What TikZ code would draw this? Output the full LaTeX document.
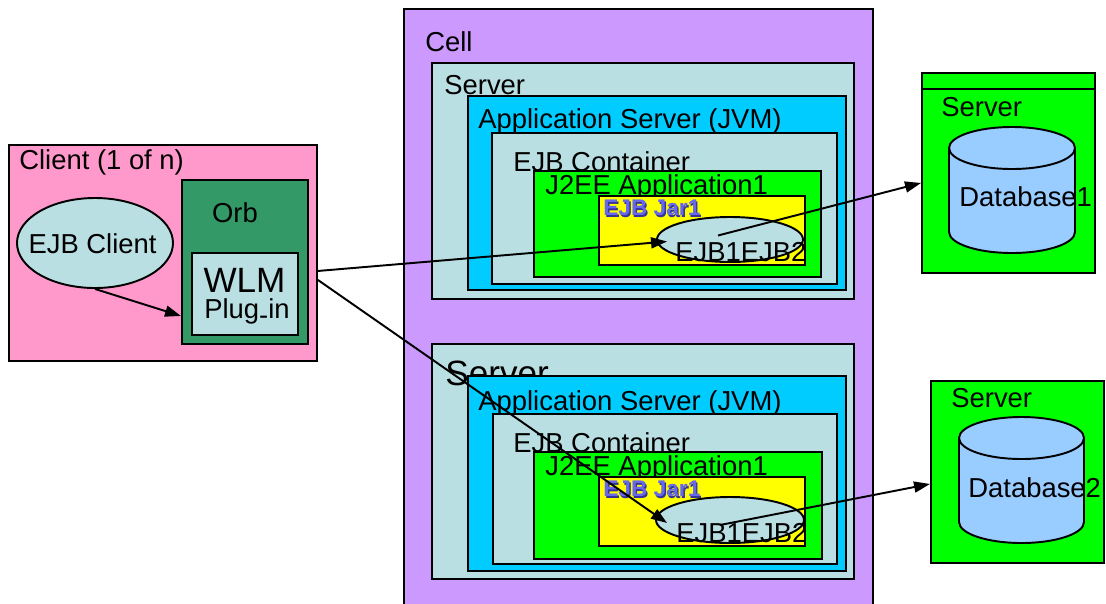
\documentclass[tikz,border=0pt]{standalone}
\usepackage{fontspec}
\setmainfont{Liberation Sans}
\usepackage{tikz}
\usetikzlibrary{arrows.meta}
\usetikzlibrary{shapes.geometric}
\usepackage{xcolor}

\definecolor{clientpink}{HTML}{FF99CC}
\definecolor{orbgreen}{HTML}{339966}
\definecolor{paleblue}{HTML}{B9DFE3}
\definecolor{jvmcyan}{HTML}{00CCFF}
\definecolor{cellpurple}{HTML}{CC99FF}
\definecolor{appgreen}{HTML}{00FF00}
\definecolor{jaryellow}{HTML}{FFFF00}
\definecolor{dbblue}{HTML}{99CCFF}
\definecolor{jarblue}{HTML}{6666EE}
\definecolor{jarshade}{HTML}{333399}

\newcommand{\jarlabel}[1]{\makebox[0pt][l]{\hspace{0.8pt}\raisebox{-0.8pt}{\color{jarshade}#1}}{\color{jarblue}#1}}

\begin{document}
\begin{tikzpicture}[box/.style={shape=rectangle,draw=black,line width=1.1pt,anchor=north west,inner sep=0pt},
  lbl/.style={anchor=west,inner sep=0pt,font=\fontsize{15.6}{18}\selectfont},
  link/.style={-{Triangle[length=3.2mm,width=2.2mm]},line width=1.1pt}]
      %\draw[help lines] (0,0) grid (22,-12); % Only for Development
      \useasboundingbox (0,0) rectangle (22.12,-12.06);

      % client side
      \node[box,fill=clientpink,minimum width=6.16cm,minimum height=4.32cm] (client) at (0.16,-2.88) {};
      \node[lbl] (clientlbl) at (0.38,-3.24) {Client (1 of n)};
      \node[box,fill=orbgreen,minimum width=2.52cm,minimum height=3.28cm] (orb) at (3.62,-3.58) {};
      \node[lbl,anchor=center] (orblbl) at (4.7,-4.26) {Orb};
      \node[box,fill=paleblue,minimum width=2.12cm,minimum height=1.64cm] (wlm) at (3.82,-5.04) {};
      \node[inner sep=0pt,anchor=base,font=\fontsize{20}{22}\selectfont] (wlmlbl) at (4.89,-5.84) {WLM};
      \node[lbl,anchor=base] (pluglbl) at (4.94,-6.36) {Plug\raisebox{-0.25em}{-}in};
      \node[shape=ellipse,
        draw=black,
        line width=1.1pt,
        fill=paleblue,
        inner sep=0pt,
        minimum width=3.12cm,
        minimum height=1.8cm] (ejbclient) at (1.9,-4.86) {};
      \node[lbl,anchor=center] (ejbclientlbl) at (1.85,-4.88) {EJB Client};

      % cell with two servers
      \node[box,fill=cellpurple,minimum width=9.38cm,minimum height=12.5cm] (cell) at (8.06,-0.16) {};
      \node[lbl] (celllbl) at (8.5,-0.84) {Cell};

      \node[box,fill=paleblue,minimum width=8.44cm,minimum height=4.72cm] (srv1) at (8.62,-1.24) {};
      \node[lbl] (srv1lbl) at (8.88,-1.7) {Server};
      \node[box,fill=jvmcyan,minimum width=7.56cm,minimum height=3.88cm] (jvm1) at (9.34,-1.9) {};
      \node[lbl] (jvm1lbl) at (9.56,-2.42) {Application Server (JVM)};
      \node[box,fill=paleblue,minimum width=6.9cm,minimum height=3.02cm] (cont1) at (9.82,-2.64) {};
      \node[lbl] (cont1lbl) at (10.26,-3.24) {EJB Container};
      \node[box,fill=appgreen,minimum width=5.74cm,minimum height=2.12cm] (app1) at (10.66,-3.4) {};
      \node[lbl] (app1lbl) at (10.9,-3.74) {J2EE Application1};
      \node[box,fill=jaryellow,minimum width=4.12cm,minimum height=1.38cm] (jar1) at (11.96,-3.9) {};
      \node[lbl,font=\fontsize{12.9}{14}\selectfont\bfseries] (jar1lbl) at (12.06,-4.18) {\jarlabel{EJB Jar1}};
      \node[shape=ellipse,draw=black,line width=1.1pt,fill=paleblue,
        minimum width=2.92cm,minimum height=0.9cm] (bean1) at (14.6,-4.79) {};
      \node[lbl] (bean1lbl) at (13.5,-5.04) {EJB1EJB2};

      \node[box,fill=paleblue,minimum width=8.44cm,minimum height=4.7cm] (srv2) at (8.62,-6.86) {};
      \node[lbl,font=\fontsize{20}{22}\selectfont] (srv2lbl) at (8.9,-7.46) {Server};
      \node[box,fill=jvmcyan,minimum width=7.56cm,minimum height=3.9cm] (jvm2) at (9.34,-7.5) {};
      \node[lbl] (jvm2lbl) at (9.56,-8.06) {Application Server (JVM)};
      \node[box,fill=paleblue,minimum width=6.88cm,minimum height=3.0cm] (cont2) at (9.84,-8.26) {};
      \node[lbl] (cont2lbl) at (10.26,-8.86) {EJB Container};
      \node[box,fill=appgreen,minimum width=5.76cm,minimum height=2.14cm] (app2) at (10.66,-9.02) {};
      \node[lbl] (app2lbl) at (10.9,-9.36) {J2EE Application1};
      \node[box,fill=jaryellow,minimum width=4.12cm,minimum height=1.38cm] (jar2) at (11.96,-9.52) {};
      \node[lbl,font=\fontsize{12.9}{14}\selectfont\bfseries] (jar2lbl) at (12.06,-9.8) {\jarlabel{EJB Jar1}};
      \node[shape=ellipse,draw=black,line width=1.1pt,fill=paleblue,
        minimum width=2.96cm,minimum height=0.92cm] (bean2) at (14.6,-10.4) {};
      \node[lbl] (bean2lbl) at (13.52,-10.66) {EJB1EJB2};

      % database servers
      \node[box,fill=appgreen,minimum width=3.46cm,minimum height=4.0cm] (dbsrv1) at (18.42,-1.44) {};
      \draw[line width=1.1pt] ([yshift=-0.34cm]dbsrv1.north west) -- ([yshift=-0.34cm]dbsrv1.north east);
      \node[lbl] (dbsrv1lbl) at (18.82,-2.14) {Server};
      \draw[fill=dbblue,line width=1.1pt]
        (18.98,-2.96) -- (18.98,-4.64) arc[start angle=180,end angle=360,x radius=1.26cm,y radius=0.42cm] --
        (21.5,-2.96) arc[start angle=0,end angle=180,x radius=1.26cm,y radius=0.42cm] -- cycle;
      \draw[line width=1.1pt] (18.98,-2.96) arc[start angle=180,end angle=360,x radius=1.26cm,y radius=0.42cm];
      \node[lbl] (db1lbl) at (19.18,-3.94) {Database1};

      \node[box,fill=appgreen,minimum width=3.46cm,minimum height=3.64cm] (dbsrv2) at (18.6,-7.6) {};
      \node[lbl] (dbsrv2lbl) at (19.02,-7.96) {Server};
      \draw[fill=dbblue,line width=1.1pt]
        (19.18,-8.76) -- (19.18,-10.44) arc[start angle=180,end angle=360,x radius=1.25cm,y radius=0.42cm] --
        (21.68,-8.76) arc[start angle=0,end angle=180,x radius=1.25cm,y radius=0.42cm] -- cycle;
      \draw[line width=1.1pt] (19.18,-8.76) arc[start angle=180,end angle=360,x radius=1.25cm,y radius=0.42cm];
      \node[lbl] (db2lbl) at (19.36,-9.76) {Database2};

      % calls
      \draw[link] (ejbclient.south) -- ([yshift=-1.08cm]orb.west);
      \draw[link] ([yshift=-0.36cm]client.east) -- ([xshift=0.22cm,yshift=-0.04cm]bean1.west);
      \draw[link] ([yshift=-0.54cm]client.east) -- ([xshift=0.24cm,yshift=-0.06cm]bean2.west);
      \draw[link] ([xshift=-0.24cm,yshift=0.08cm]bean1.center) -- ([yshift=-0.2cm]dbsrv1.west);
      \draw[link] ([xshift=-0.2cm,yshift=-0.1cm]bean2.center) -- ([yshift=-0.24cm]dbsrv2.west);

    \end{tikzpicture}
\end{document}
